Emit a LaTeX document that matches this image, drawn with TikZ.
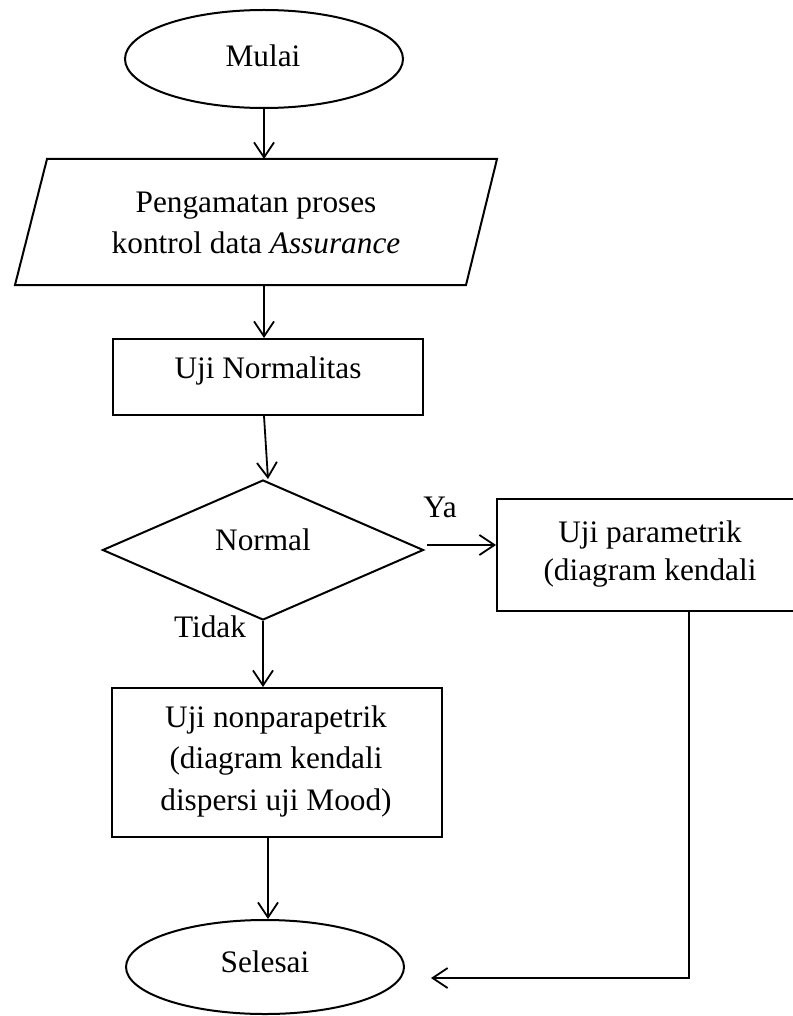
\documentclass[tikz,border=0pt]{standalone}
\usepackage{fontspec}
\setmainfont{Liberation Serif}
\usetikzlibrary{shapes.geometric,arrows.meta}
\begin{document}
\begin{tikzpicture}[x=1pt,y=-1pt,line width=2pt,line join=miter,
  txt/.style={font=\fontsize{31.3}{38}\selectfont,anchor=base,inner sep=0pt},
  conn/.style={-{Straight Barb[length=15pt,width=20pt,line width=1.8pt]},line width=1.8pt},
  box/.style={draw,rectangle,inner sep=0pt},
  term/.style={draw,ellipse,inner sep=0pt}]
\useasboundingbox (0,0) rectangle (792,1016);
% shapes
\node[term,minimum width=278pt,minimum height=98pt] (mulai) at (264,59) {};
\coordinate (pa) at (47,159);
\coordinate (pb) at (497,159);
\coordinate (pc) at (466,285);
\coordinate (pd) at (15,285);
\draw (pa) -- (pb) -- (pc) -- (pd) -- cycle;
\node[box,minimum width=310pt,minimum height=76pt] (norm) at (268,377) {};
\node[draw,diamond,aspect=2.3,inner sep=0pt,minimum width=321pt,minimum height=140pt] (dec) at (263,550) {};
\node[box,minimum width=303pt,minimum height=112pt] (param) at (648.5,555) {};
\node[box,minimum width=330pt,minimum height=149pt] (nonp) at (277,762.5) {};
\node[term,minimum width=278pt,minimum height=94pt] (sel) at (265,967) {};
% texts
\node[txt] (tMulai) at (263,67) {Mulai};
\node[txt] (tP1) at (256,213) {Pengamatan proses};
\node[txt] (tP2) at (256,253) {kontrol data \textit{Assurance}};
\node[txt] (tNorm) at (268,378) {Uji Normalitas};
\node[txt] (tDec) at (263,550) {Normal};
\node[txt] (tYa) at (440,517) {Ya};
\node[txt] (tTidak) at (210,637) {Tidak};
\node[txt] (tR1) at (650,542) {Uji parametrik};
\node[txt] (tR2) at (650,580) {(diagram kendali};
\node[txt] (tN1) at (276,727) {Uji nonparapetrik};
\node[txt] (tN2) at (276,768) {(diagram kendali};
\node[txt] (tN3) at (276,810) {dispersi uji Mood)};
\node[txt] (tSel) at (265,972) {Selesai};
% connectors
\coordinate (pTop) at (264,159);
\coordinate (pBot) at (264,285);
\coordinate (dTip) at (268,479);
\coordinate (yaS) at (427,545);
\coordinate (nB) at (268,837);
\coordinate (rB) at (689,611);
\coordinate (rC) at (689,978);
\coordinate (rE) at (431,978);
\draw[conn] (mulai.south) -- (pTop);
\draw[conn] (pBot) -- (pBot |- norm.north);
\draw[conn] (pBot |- norm.south) -- (dTip);
\draw[conn] (yaS) -- (param.west |- yaS);
\draw[conn] (dec.south) -- (dec.south |- nonp.north);
\draw[conn] (nB) -- (nB |- sel.north);
\draw[conn] (rB) -- (rC) -- (rE);
\end{tikzpicture}
\end{document}
